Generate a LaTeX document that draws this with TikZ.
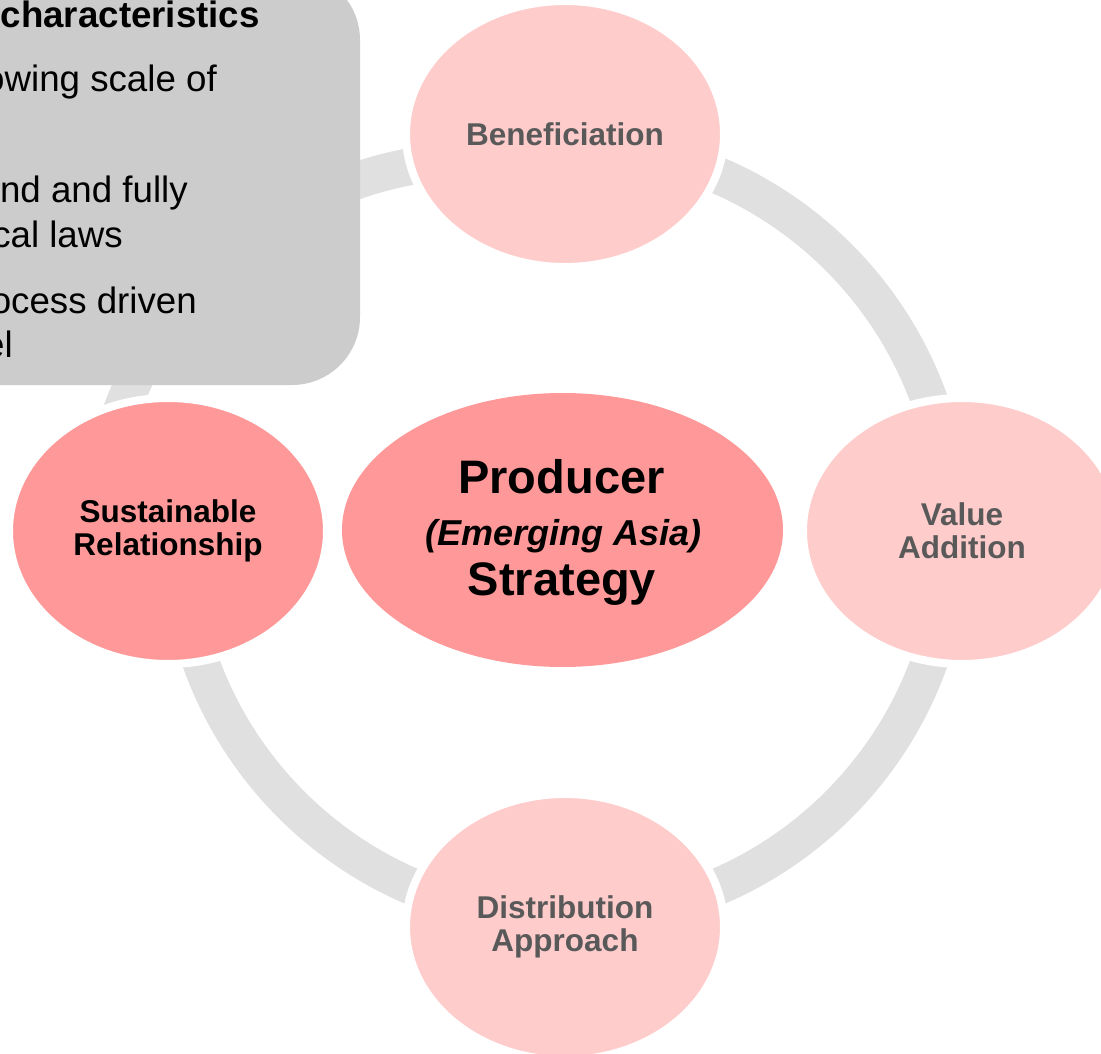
\documentclass[tikz,border=0pt]{standalone}
\usepackage{fontspec}
\setmainfont{Liberation Sans}
\usetikzlibrary{shapes.geometric}
\definecolor{ringgray}{HTML}{E0E0E0}
\definecolor{boxgray}{HTML}{CCCCCC}
\definecolor{lightpink}{HTML}{FFCCCC}
\definecolor{darkpink}{HTML}{FF9999}
\definecolor{labelgray}{HTML}{595959}
\begin{document}
\begin{tikzpicture}[x=1pt,y=-1pt,
  ring/.style={draw=ringgray, line width=37pt},
  stage/.style={ellipse, fill=lightpink, draw=white, line width=8pt,
    minimum width=318pt, minimum height=266pt, inner sep=0pt,
    text=labelgray, align=center,
    font=\fontsize{31.5}{33}\selectfont\bfseries},
  keystage/.style={stage, fill=darkpink, text=black},
  core/.style={ellipse, fill=darkpink, minimum width=441pt, minimum height=274pt, inner sep=0pt},
  coretext/.style={anchor=base, inner sep=0pt, text=black},
  boxtext/.style={anchor=base east, inner sep=0pt, text=black,
    font=\fontsize{36.7}{44}\selectfont}]
\useasboundingbox (0,0) rectangle (1101,1054);
\fill[white] (0,0) rectangle (1101,1054);
\clip (0,0) rectangle (1101,1054);
% ring
\coordinate (C) at (565,531);
\coordinate (D) at (481,543);
\draw[ring] (C) ++(-90:387) arc[start angle=-90, end angle=180, radius=387];
\draw[ring] (D) ++(185:383) arc[start angle=185, end angle=265, radius=383];
% stages
\node[stage] (ben) at (565,134) {Beneficiation};
\node[stage] (val) at (962,531) {Value\\Addition};
\node[stage] (dis) at (565,927) {Distribution\\Approach};
\node[keystage] (sus) at (168,531) {Sustainable\\Relationship};
% centre
\node[core] (centre) at (562.5,530) {};
\node[coretext, font=\fontsize{47}{50}\selectfont\bfseries] (prod) at (561.5,493) {Producer};
\node[coretext, font=\fontsize{36}{40}\selectfont\bfseries\itshape] (emg) at (563.5,545) {(Emerging Asia)};
\node[coretext, font=\fontsize{47}{50}\selectfont\bfseries] (strat) at (562,595) {Strategy};
% callout box
\fill[boxgray, rounded corners=68pt] (-300,-28) rectangle (360,385);
\node[boxtext, font=\fontsize{36.7}{44}\selectfont\bfseries] (t0) at (260,27.5) {characteristics};
\node[boxtext] (t1) at (217,92) {owing scale of};
\node[boxtext] (t2) at (188,203) {nd and fully};
\node[boxtext] (t3) at (123,247) {cal laws};
\node[boxtext] (t4) at (197,313) {ocess driven};
\node[boxtext] (t5) at (13,357) {el};
\end{tikzpicture}
\end{document}
